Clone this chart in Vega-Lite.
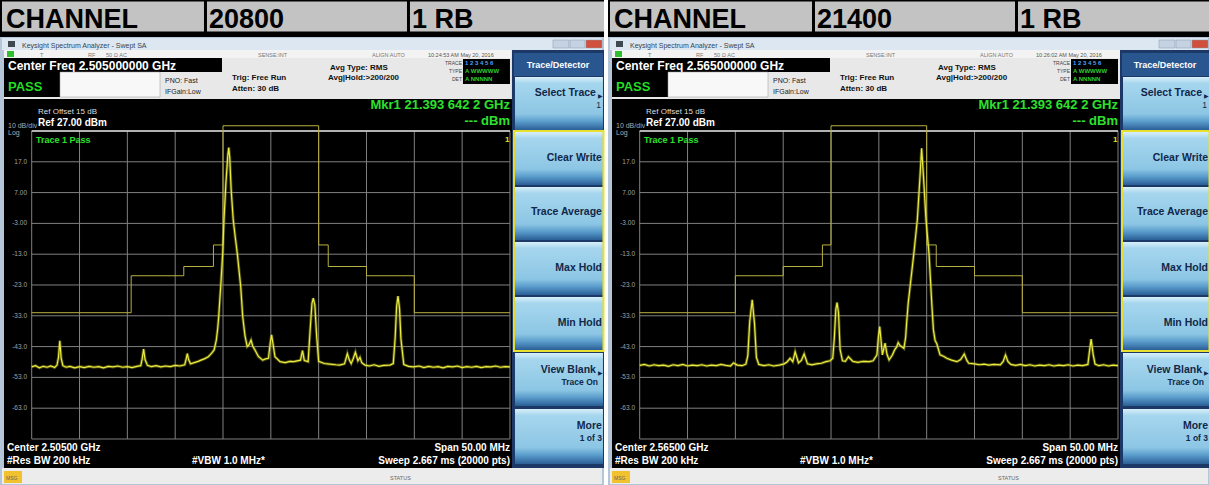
{
"$schema":"https://vega.github.io/schema/vega-lite/v6.json",
"background":"#ffffff",
"padding":0,
"spacing":3,
"config":{"view":{"stroke":null},"axis":{"disable":true},"font":"Liberation Sans","text":{"font":"Liberation Sans"}},
"datasets":{
"traceL":[
{"f":2480.0,"db":-49.6},{"f":2480.4,"db":-49.2},{"f":2480.8,"db":-49.9},{"f":2481.2,"db":-49.4},{"f":2481.6,"db":-49.7},{"f":2482.0,"db":-49.3},{"f":2482.4,"db":-49.8},{"f":2482.65,"db":-49.0},{"f":2482.8,"db":-46.5},{"f":2482.94,"db":-41.1},{"f":2483.08,"db":-46.8},{"f":2483.26,"db":-49.2},{"f":2483.6,"db":-49.7},{"f":2484.0,"db":-49.4},{"f":2484.5,"db":-49.9},{"f":2485.0,"db":-49.5},{"f":2485.5,"db":-49.8},{"f":2486.0,"db":-49.4},{"f":2486.5,"db":-49.7},{"f":2487.0,"db":-49.5},{"f":2487.5,"db":-49.9},{"f":2488.0,"db":-49.4},{"f":2488.5,"db":-49.6},{"f":2489.0,"db":-49.3},{"f":2489.5,"db":-49.7},{"f":2490.0,"db":-49.5},{"f":2490.5,"db":-49.8},{"f":2491.0,"db":-49.4},{"f":2491.4,"db":-49.2},{"f":2491.55,"db":-47.0},{"f":2491.7,"db":-43.8},{"f":2491.85,"db":-47.2},{"f":2492.1,"db":-49.1},{"f":2492.5,"db":-49.5},{"f":2493.0,"db":-49.2},{"f":2493.5,"db":-49.6},{"f":2494.0,"db":-49.3},{"f":2494.5,"db":-49.5},{"f":2495.0,"db":-49.1},{"f":2495.5,"db":-49.3},{"f":2496.0,"db":-48.9},{"f":2496.15,"db":-47.0},{"f":2496.27,"db":-45.3},{"f":2496.4,"db":-47.2},{"f":2496.6,"db":-48.6},{"f":2497.0,"db":-48.2},{"f":2497.4,"db":-47.8},{"f":2497.7,"db":-47.4},{"f":2498.1,"db":-46.9},{"f":2498.46,"db":-46.3},{"f":2498.8,"db":-45.2},{"f":2499.07,"db":-44.1},{"f":2499.3,"db":-40.9},{"f":2499.45,"db":-37.0},{"f":2499.55,"db":-33.3},{"f":2499.76,"db":-23.5},{"f":2499.97,"db":-12.7},{"f":2500.1,"db":-1.9},{"f":2500.3,"db":10.0},{"f":2500.5,"db":19.0},{"f":2500.6,"db":21.6},{"f":2500.7,"db":18.5},{"f":2500.85,"db":8.0},{"f":2501.07,"db":-1.9},{"f":2501.3,"db":-8.0},{"f":2501.49,"db":-12.7},{"f":2501.85,"db":-23.5},{"f":2502.06,"db":-33.3},{"f":2502.3,"db":-39.5},{"f":2502.53,"db":-43.0},{"f":2502.7,"db":-42.5},{"f":2502.93,"db":-40.9},{"f":2503.1,"db":-42.8},{"f":2503.34,"db":-44.1},{"f":2503.7,"db":-46.2},{"f":2504.15,"db":-47.4},{"f":2504.45,"db":-47.0},{"f":2504.75,"db":-46.8},{"f":2504.95,"db":-41.5},{"f":2505.08,"db":-39.2},{"f":2505.22,"db":-42.0},{"f":2505.43,"db":-46.3},{"f":2505.96,"db":-47.9},{"f":2506.5,"db":-48.2},{"f":2507.0,"db":-47.8},{"f":2507.38,"db":-47.9},{"f":2508.1,"db":-47.4},{"f":2508.31,"db":-44.3},{"f":2508.5,"db":-47.5},{"f":2508.9,"db":-47.9},{"f":2509.1,"db":-38.0},{"f":2509.3,"db":-29.0},{"f":2509.44,"db":-27.3},{"f":2509.6,"db":-29.5},{"f":2509.8,"db":-40.0},{"f":2510.0,"db":-47.8},{"f":2510.6,"db":-48.5},{"f":2511.2,"db":-48.7},{"f":2511.8,"db":-48.9},{"f":2512.2,"db":-49.0},{"f":2512.7,"db":-48.6},{"f":2512.85,"db":-47.0},{"f":2513.0,"db":-45.3},{"f":2513.2,"db":-47.3},{"f":2513.4,"db":-48.5},{"f":2513.6,"db":-47.0},{"f":2513.84,"db":-44.8},{"f":2514.1,"db":-47.6},{"f":2514.32,"db":-46.5},{"f":2514.5,"db":-48.2},{"f":2514.84,"db":-49.0},{"f":2515.3,"db":-49.3},{"f":2515.8,"db":-48.9},{"f":2516.3,"db":-49.4},{"f":2516.8,"db":-49.1},{"f":2517.45,"db":-49.0},{"f":2517.8,"db":-48.5},{"f":2518.0,"db":-40.0},{"f":2518.15,"db":-30.0},{"f":2518.29,"db":-26.6},{"f":2518.45,"db":-30.5},{"f":2518.6,"db":-40.5},{"f":2518.9,"db":-48.8},{"f":2519.4,"db":-49.4},{"f":2519.9,"db":-49.6},{"f":2520.5,"db":-49.3},{"f":2521.0,"db":-49.8},{"f":2521.5,"db":-49.4},{"f":2522.0,"db":-49.7},{"f":2522.5,"db":-49.5},{"f":2523.0,"db":-49.9},{"f":2523.5,"db":-49.4},{"f":2524.0,"db":-49.6},{"f":2524.5,"db":-49.3},{"f":2525.0,"db":-49.8},{"f":2525.5,"db":-49.5},{"f":2526.0,"db":-49.7},{"f":2526.5,"db":-49.4},{"f":2527.0,"db":-49.8},{"f":2527.5,"db":-49.5},{"f":2528.0,"db":-49.6},{"f":2528.5,"db":-49.3},{"f":2529.0,"db":-49.7},{"f":2529.5,"db":-49.5},{"f":2530.0,"db":-49.6}
],
"traceR":[
{"f":2540.0,"db":-49.1},{"f":2540.5,"db":-48.8},{"f":2541.0,"db":-49.3},{"f":2541.5,"db":-48.9},{"f":2542.0,"db":-49.2},{"f":2542.5,"db":-49.0},{"f":2543.0,"db":-49.4},{"f":2543.5,"db":-48.9},{"f":2544.0,"db":-49.2},{"f":2544.5,"db":-48.8},{"f":2545.0,"db":-49.3},{"f":2545.5,"db":-49.0},{"f":2546.0,"db":-49.2},{"f":2546.5,"db":-48.9},{"f":2547.0,"db":-49.3},{"f":2547.5,"db":-49.0},{"f":2548.0,"db":-49.2},{"f":2548.5,"db":-48.8},{"f":2549.0,"db":-49.1},{"f":2549.5,"db":-49.3},{"f":2549.8,"db":-48.3},{"f":2550.2,"db":-49.0},{"f":2550.7,"db":-49.2},{"f":2551.1,"db":-48.7},{"f":2551.3,"db":-46.0},{"f":2551.5,"db":-35.0},{"f":2551.76,"db":-27.8},{"f":2552.0,"db":-35.5},{"f":2552.2,"db":-46.5},{"f":2552.45,"db":-48.8},{"f":2553.0,"db":-49.2},{"f":2553.5,"db":-48.9},{"f":2554.0,"db":-49.3},{"f":2554.6,"db":-49.0},{"f":2555.1,"db":-48.6},{"f":2555.4,"db":-48.0},{"f":2555.72,"db":-46.8},{"f":2556.0,"db":-47.9},{"f":2556.25,"db":-44.7},{"f":2556.6,"db":-48.3},{"f":2556.9,"db":-47.5},{"f":2557.19,"db":-45.4},{"f":2557.54,"db":-48.6},{"f":2558.0,"db":-48.9},{"f":2558.5,"db":-48.6},{"f":2559.0,"db":-48.4},{"f":2559.47,"db":-47.9},{"f":2559.9,"db":-47.6},{"f":2560.18,"db":-46.8},{"f":2560.35,"db":-40.0},{"f":2560.5,"db":-31.0},{"f":2560.63,"db":-28.7},{"f":2560.78,"db":-32.0},{"f":2560.95,"db":-44.0},{"f":2561.2,"db":-47.6},{"f":2561.5,"db":-47.8},{"f":2561.82,"db":-46.3},{"f":2562.28,"db":-47.8},{"f":2562.8,"db":-48.1},{"f":2563.4,"db":-47.8},{"f":2564.0,"db":-47.9},{"f":2564.4,"db":-47.6},{"f":2564.8,"db":-45.7},{"f":2564.95,"db":-40.0},{"f":2565.09,"db":-36.5},{"f":2565.23,"db":-41.0},{"f":2565.37,"db":-45.7},{"f":2565.65,"db":-41.9},{"f":2565.85,"db":-45.5},{"f":2566.07,"db":-47.3},{"f":2566.4,"db":-45.8},{"f":2566.66,"db":-44.0},{"f":2566.85,"db":-43.2},{"f":2567.02,"db":-41.7},{"f":2567.2,"db":-42.6},{"f":2567.37,"db":-43.0},{"f":2567.62,"db":-43.6},{"f":2567.8,"db":-40.0},{"f":2567.9,"db":-35.4},{"f":2568.07,"db":-28.9},{"f":2568.66,"db":-12.7},{"f":2569.02,"db":-1.9},{"f":2569.3,"db":12.0},{"f":2569.47,"db":21.4},{"f":2569.65,"db":13.0},{"f":2569.93,"db":-1.9},{"f":2570.24,"db":-12.7},{"f":2570.53,"db":-28.9},{"f":2570.7,"db":-37.5},{"f":2570.88,"db":-41.0},{"f":2571.05,"db":-42.0},{"f":2571.4,"db":-45.7},{"f":2571.8,"db":-46.2},{"f":2572.1,"db":-46.8},{"f":2572.6,"db":-47.4},{"f":2573.16,"db":-47.9},{"f":2573.55,"db":-47.2},{"f":2573.93,"db":-45.4},{"f":2574.2,"db":-47.5},{"f":2574.4,"db":-48.4},{"f":2575.0,"db":-48.6},{"f":2575.5,"db":-48.9},{"f":2576.0,"db":-48.7},{"f":2576.5,"db":-49.0},{"f":2577.0,"db":-48.8},{"f":2577.7,"db":-48.9},{"f":2578.0,"db":-47.8},{"f":2578.24,"db":-45.7},{"f":2578.5,"db":-47.9},{"f":2578.8,"db":-48.8},{"f":2579.3,"db":-49.1},{"f":2579.8,"db":-48.8},{"f":2580.3,"db":-49.2},{"f":2580.8,"db":-48.9},{"f":2581.3,"db":-49.3},{"f":2581.8,"db":-49.0},{"f":2582.3,"db":-49.2},{"f":2582.8,"db":-48.9},{"f":2583.3,"db":-49.3},{"f":2583.8,"db":-49.0},{"f":2584.3,"db":-49.2},{"f":2584.8,"db":-48.9},{"f":2585.3,"db":-49.3},{"f":2585.8,"db":-49.0},{"f":2586.3,"db":-49.2},{"f":2586.85,"db":-48.8},{"f":2587.0,"db":-45.0},{"f":2587.19,"db":-40.6},{"f":2587.4,"db":-45.5},{"f":2587.6,"db":-48.7},{"f":2588.0,"db":-49.2},{"f":2588.5,"db":-48.9},{"f":2589.0,"db":-49.3},{"f":2589.5,"db":-49.0},{"f":2590.0,"db":-49.2}
],
"maskL":[{"f":2480,"db":-32},{"f":2490.4,"db":-20},{"f":2495.9,"db":-17},{"f":2499,"db":-10},{"f":2500,"db":28.7},{"f":2510,"db":-10},{"f":2511,"db":-17},{"f":2515,"db":-20},{"f":2520,"db":-32},{"f":2530,"db":-32}],
"maskR":[{"f":2540,"db":-32},{"f":2550,"db":-20},{"f":2555,"db":-17},{"f":2559.1,"db":-10},{"f":2560,"db":28.7},{"f":2570,"db":-10},{"f":2571,"db":-17},{"f":2575,"db":-20},{"f":2580,"db":-32},{"f":2590,"db":-32}],
"levels":[{"db":17,"label":"17.0"},{"db":7,"label":"7.00"},{"db":-3,"label":"-3.00"},{"db":-13,"label":"-13.0"},{"db":-23,"label":"-23.0"},{"db":-33,"label":"-33.0"},{"db":-43,"label":"-43.0"},{"db":-53,"label":"-53.0"},{"db":-63,"label":"-63.0"}],
"hgrid":[{"d":27},{"d":17},{"d":7},{"d":-3},{"d":-13},{"d":-23},{"d":-33},{"d":-43},{"d":-53},{"d":-63},{"d":-73}],
"vgridL":[{"g":2480},{"g":2485},{"g":2490},{"g":2495},{"g":2500},{"g":2505},{"g":2510},{"g":2515},{"g":2520},{"g":2525},{"g":2530}],
"vgridR":[{"g":2540},{"g":2545},{"g":2550},{"g":2555},{"g":2560},{"g":2565},{"g":2570},{"g":2575},{"g":2580},{"g":2585},{"g":2590}]
},
"hconcat":[
{
"width":604,"height":485,
"data":{"values":[{}]},
"layer":[
{"mark":{"type":"rect","color":"#000000"},"encoding":{"x":{"datum":2476.686,"type":"quantitative","scale":{"domain":[2476.686,2539.83],"nice":false,"zero":false},"axis":null},"x2":{"datum":2539.83},"y":{"datum":69.53,"type":"quantitative","scale":{"domain":[-87.937,69.53],"nice":false,"zero":false},"axis":null},"y2":{"datum":57.517}}},
{"mark":{"type":"rect","color":"#c3c3c3"},"encoding":{"x":{"datum":2476.895},"x2":{"datum":2498.011},"y":{"datum":69.043},"y2":{"datum":59.303}}},
{"mark":{"type":"rect","color":"#c3c3c3"},"encoding":{"x":{"datum":2498.325},"x2":{"datum":2519.233},"y":{"datum":69.043},"y2":{"datum":59.303}}},
{"mark":{"type":"rect","color":"#c3c3c3"},"encoding":{"x":{"datum":2519.546},"x2":{"datum":2539.83},"y":{"datum":69.043},"y2":{"datum":59.303}}},
{"mark":{"type":"text","text":"CHANNEL","fontSize":27,"fontWeight":"bold","color":"#000000","align":"left","baseline":"alphabetic"},"encoding":{"x":{"datum":2477.313},"y":{"datum":60.277}}},
{"mark":{"type":"text","text":"20800","fontSize":27,"fontWeight":"bold","color":"#000000","align":"left","baseline":"alphabetic"},"encoding":{"x":{"datum":2498.534},"y":{"datum":60.277}}},
{"mark":{"type":"text","text":"1 RB","fontSize":27,"fontWeight":"bold","color":"#000000","align":"left","baseline":"alphabetic"},"encoding":{"x":{"datum":2519.755},"y":{"datum":60.277}}},
{"mark":{"type":"rect","color":"#b4c6d8"},"encoding":{"x":{"datum":2476.686},"x2":{"datum":2539.83},"y":{"datum":57.517},"y2":{"datum":-87.937}}},
{"mark":{"type":"rect","color":"#dde7f1"},"encoding":{"x":{"datum":2476.895},"x2":{"datum":2539.617},"y":{"datum":57.193},"y2":{"datum":53.296}}},
{"mark":{"type":"rect","color":"#404850"},"encoding":{"x":{"datum":2477.522},"x2":{"datum":2478.254},"y":{"datum":56.218},"y2":{"datum":54.27}}},
{"mark":{"type":"text","text":"Keysight Spectrum Analyzer - Swept SA","fontSize":7,"color":"#334455","align":"left","baseline":"alphabetic"},"encoding":{"x":{"datum":2478.986},"y":{"datum":53.946}}},
{"mark":{"type":"rect","color":"#c4d2e2","stroke":"#8898aa","strokeWidth":0.5},"encoding":{"x":{"datum":2534.495},"x2":{"datum":2536.168},"y":{"datum":56.543},"y2":{"datum":53.946}}},
{"mark":{"type":"rect","color":"#c4d2e2","stroke":"#8898aa","strokeWidth":0.5},"encoding":{"x":{"datum":2536.272},"x2":{"datum":2537.84},"y":{"datum":56.543},"y2":{"datum":53.946}}},
{"mark":{"type":"rect","color":"#d0503c","stroke":"#8898aa","strokeWidth":0.5},"encoding":{"x":{"datum":2537.945},"x2":{"datum":2539.617},"y":{"datum":56.543},"y2":{"datum":53.946}}},
{"mark":{"type":"rect","color":"#f3f3f3"},"encoding":{"x":{"datum":2477.104},"x2":{"datum":2530.209},"y":{"datum":53.296},"y2":{"datum":50.699}}},
{"mark":{"type":"rect","color":"#2fbf2f"},"encoding":{"x":{"datum":2477.418},"x2":{"datum":2478.15},"y":{"datum":52.971},"y2":{"datum":51.023}}},
{"mark":{"type":"text","text":"T","fontSize":5.5,"color":"#777777","align":"left","baseline":"alphabetic"},"encoding":{"x":{"datum":2480.867},"y":{"datum":51.023}}},
{"mark":{"type":"text","text":"RF","fontSize":5.5,"color":"#777777","align":"left","baseline":"alphabetic"},"encoding":{"x":{"datum":2485.885},"y":{"datum":51.023}}},
{"mark":{"type":"text","text":"50 Ω    AC","fontSize":5.5,"color":"#777777","align":"left","baseline":"alphabetic"},"encoding":{"x":{"datum":2487.767},"y":{"datum":51.023}}},
{"mark":{"type":"text","text":"SENSE:INT","fontSize":5.5,"color":"#777777","align":"left","baseline":"alphabetic"},"encoding":{"x":{"datum":2503.657},"y":{"datum":51.023}}},
{"mark":{"type":"text","text":"ALIGN AUTO","fontSize":5.5,"color":"#777777","align":"left","baseline":"alphabetic"},"encoding":{"x":{"datum":2515.574},"y":{"datum":51.023}}},
{"mark":{"type":"text","text":"10:24:53 AM May 20, 2016","fontSize":5.5,"color":"#555555","align":"left","baseline":"alphabetic"},"encoding":{"x":{"datum":2521.428},"y":{"datum":51.023}}},
{"mark":{"type":"rect","color":"#e8e8e8"},"encoding":{"x":{"datum":2477.104},"x2":{"datum":2530.209},"y":{"datum":50.699},"y2":{"datum":37.387}}},
{"mark":{"type":"rect","color":"#000000"},"encoding":{"x":{"datum":2477.104},"x2":{"datum":2499.893},"y":{"datum":50.699},"y2":{"datum":46.153}}},
{"mark":{"type":"text","text":"Center Freq 2.505000000 GHz","fontSize":12,"fontWeight":"bold","color":"#ffffff","align":"left","baseline":"alphabetic"},"encoding":{"x":{"datum":2477.522},"y":{"datum":46.803}}},
{"mark":{"type":"rect","color":"#000000"},"encoding":{"x":{"datum":2477.104},"x2":{"datum":2482.958},"y":{"datum":46.153},"y2":{"datum":38.036}}},
{"mark":{"type":"rect","color":"#f8f8f8","stroke":"#999999","strokeWidth":0.5},"encoding":{"x":{"datum":2482.958},"x2":{"datum":2493.412},"y":{"datum":46.153},"y2":{"datum":38.036}}},
{"mark":{"type":"text","text":"PASS","fontSize":13,"fontWeight":"bold","color":"#22dd22","align":"left","baseline":"alphabetic"},"encoding":{"x":{"datum":2477.522},"y":{"datum":39.985}}},
{"mark":{"type":"text","text":"PNO: Fast","fontSize":7,"color":"#222222","align":"left","baseline":"alphabetic"},"encoding":{"x":{"datum":2493.935},"y":{"datum":42.582}}},
{"mark":{"type":"text","text":"IFGain:Low","fontSize":7,"color":"#222222","align":"left","baseline":"alphabetic"},"encoding":{"x":{"datum":2493.935},"y":{"datum":39.01}}},
{"mark":{"type":"text","text":"Trig: Free Run","fontSize":8,"fontWeight":"bold","color":"#111111","align":"left","baseline":"alphabetic"},"encoding":{"x":{"datum":2500.939},"y":{"datum":43.556}}},
{"mark":{"type":"text","text":"Atten: 30 dB","fontSize":8,"fontWeight":"bold","color":"#111111","align":"left","baseline":"alphabetic"},"encoding":{"x":{"datum":2500.939},"y":{"datum":39.985}}},
{"mark":{"type":"text","text":"Avg Type: RMS","fontSize":8,"fontWeight":"bold","color":"#111111","align":"left","baseline":"alphabetic"},"encoding":{"x":{"datum":2511.183},"y":{"datum":46.803}}},
{"mark":{"type":"text","text":"Avg|Hold:>200/200","fontSize":8,"fontWeight":"bold","color":"#111111","align":"left","baseline":"alphabetic"},"encoding":{"x":{"datum":2510.974},"y":{"datum":43.556}}},
{"mark":{"type":"text","text":"TRACE","fontSize":5,"color":"#444444","align":"right","baseline":"alphabetic"},"encoding":{"x":{"datum":2524.982},"y":{"datum":48.426}}},
{"mark":{"type":"text","text":"TYPE","fontSize":5,"color":"#444444","align":"right","baseline":"alphabetic"},"encoding":{"x":{"datum":2524.982},"y":{"datum":45.83}}},
{"mark":{"type":"text","text":"DET","fontSize":5,"color":"#444444","align":"right","baseline":"alphabetic"},"encoding":{"x":{"datum":2524.982},"y":{"datum":43.232}}},
{"mark":{"type":"rect","color":"#000000"},"encoding":{"x":{"datum":2525.087},"x2":{"datum":2530.0},"y":{"datum":50.374},"y2":{"datum":42.258}}},
{"mark":{"type":"text","text":"1 2 3 4 5 6","fontSize":6,"fontWeight":"bold","color":"#4aa0ff","align":"left","baseline":"alphabetic"},"encoding":{"x":{"datum":2525.296},"y":{"datum":48.426}}},
{"mark":{"type":"text","text":"A WWWWW","fontSize":6,"fontWeight":"bold","color":"#33cc33","align":"left","baseline":"alphabetic"},"encoding":{"x":{"datum":2525.296},"y":{"datum":45.83}}},
{"mark":{"type":"text","text":"A NNNNN","fontSize":6,"fontWeight":"bold","color":"#33cc33","align":"left","baseline":"alphabetic"},"encoding":{"x":{"datum":2525.296},"y":{"datum":43.232}}},
{"mark":{"type":"rect","color":"#000000"},"encoding":{"x":{"datum":2477.104},"x2":{"datum":2530.209},"y":{"datum":37.387},"y2":{"datum":-82.418}}},
{"data":{"name":"vgridL"},"mark":{"type":"rule","color":"#808080","strokeWidth":1},"encoding":{"x":{"field":"g","type":"quantitative","scale":{"domain":[2476.686,2539.83],"nice":false,"zero":false}},"y":{"datum":27},"y2":{"datum":-73}}},
{"data":{"name":"hgrid"},"mark":{"type":"rule","color":"#808080","strokeWidth":1},"encoding":{"y":{"field":"d","type":"quantitative","scale":{"domain":[-87.937,69.53],"nice":false,"zero":false}},"x":{"datum":2480},"x2":{"datum":2530}}},
{"mark":{"type":"rule","color":"#d8d8d8","strokeWidth":1.5},"encoding":{"y":{"datum":27},"x":{"datum":2480},"x2":{"datum":2530}}},
{"data":{"name":"maskL"},"mark":{"type":"line","color":"#b8b040","strokeWidth":1,"interpolate":"step-after"},"encoding":{"x":{"field":"f","type":"quantitative"},"y":{"field":"db","type":"quantitative"}}},
{"data":{"name":"traceL"},"mark":{"type":"line","color":"#9a9a20","strokeWidth":3,"opacity":0.5},"encoding":{"x":{"field":"f","type":"quantitative"},"y":{"field":"db","type":"quantitative"}}},
{"data":{"name":"traceL"},"mark":{"type":"line","color":"#ecec40","strokeWidth":1.2},"encoding":{"x":{"field":"f","type":"quantitative"},"y":{"field":"db","type":"quantitative"}}},
{"data":{"name":"levels"},"mark":{"type":"text","fontSize":6.5,"color":"#a0a0a0","align":"right","baseline":"middle"},"encoding":{"x":{"datum":2479.509},"y":{"field":"db","type":"quantitative"},"text":{"field":"label"}}},
{"mark":{"type":"text","text":"Ref Offset 15 dB","fontSize":8,"color":"#dddddd","align":"left","baseline":"alphabetic"},"encoding":{"x":{"datum":2480.658},"y":{"datum":32.517}}},
{"mark":{"type":"text","text":"Ref 27.00 dBm","fontSize":10,"fontWeight":"bold","color":"#ffffff","align":"left","baseline":"alphabetic"},"encoding":{"x":{"datum":2480.658},"y":{"datum":28.62}}},
{"mark":{"type":"text","text":"10 dB/div","fontSize":7,"color":"#aaaaaa","align":"left","baseline":"alphabetic"},"encoding":{"x":{"datum":2477.522},"y":{"datum":27.971}}},
{"mark":{"type":"text","text":"Log","fontSize":7,"color":"#aaaaaa","align":"left","baseline":"alphabetic"},"encoding":{"x":{"datum":2477.522},"y":{"datum":25.699}}},
{"mark":{"type":"text","text":"Mkr1 21.393 642 2 GHz","fontSize":13,"fontWeight":"bold","color":"#2ee02e","align":"right","baseline":"alphabetic"},"encoding":{"x":{"datum":2530.0},"y":{"datum":34.14}}},
{"mark":{"type":"text","text":"--- dBm","fontSize":13,"fontWeight":"bold","color":"#2ee02e","align":"right","baseline":"alphabetic"},"encoding":{"x":{"datum":2530.0},"y":{"datum":28.946}}},
{"mark":{"type":"text","text":"Trace 1 Pass","fontSize":9,"fontWeight":"bold","color":"#2ee02e","align":"left","baseline":"alphabetic"},"encoding":{"x":{"datum":2480.449},"y":{"datum":23.102}}},
{"mark":{"type":"text","text":"1","fontSize":8,"fontWeight":"bold","color":"#e8e020","align":"left","baseline":"alphabetic"},"encoding":{"x":{"datum":2529.477},"y":{"datum":23.427}}},
{"mark":{"type":"text","text":"Center 2.50500 GHz","fontSize":10,"fontWeight":"bold","color":"#ffffff","align":"left","baseline":"alphabetic"},"encoding":{"x":{"datum":2477.418},"y":{"datum":-76.898}}},
{"mark":{"type":"text","text":"#Res BW 200 kHz","fontSize":10,"fontWeight":"bold","color":"#ffffff","align":"left","baseline":"alphabetic"},"encoding":{"x":{"datum":2477.418},"y":{"datum":-81.119}}},
{"mark":{"type":"text","text":"#VBW 1.0 MHz*","fontSize":10,"fontWeight":"bold","color":"#ffffff","align":"left","baseline":"alphabetic"},"encoding":{"x":{"datum":2496.757},"y":{"datum":-81.119}}},
{"mark":{"type":"text","text":"Span 50.00 MHz","fontSize":10,"fontWeight":"bold","color":"#ffffff","align":"right","baseline":"alphabetic"},"encoding":{"x":{"datum":2530.0},"y":{"datum":-76.898}}},
{"mark":{"type":"text","text":"Sweep  2.667 ms (20000 pts)","fontSize":10,"fontWeight":"bold","color":"#ffffff","align":"right","baseline":"alphabetic"},"encoding":{"x":{"datum":2530.0},"y":{"datum":-81.119}}},
{"mark":{"type":"rect","color":"#ececec"},"encoding":{"x":{"datum":2476.895},"x2":{"datum":2539.617},"y":{"datum":-82.418},"y2":{"datum":-87.613}}},
{"mark":{"type":"rect","color":"#f2c12e"},"encoding":{"x":{"datum":2477.104},"x2":{"datum":2478.986},"y":{"datum":-83.392},"y2":{"datum":-87.288}}},
{"mark":{"type":"text","text":"MSG","fontSize":5,"color":"#666666","align":"left","baseline":"alphabetic"},"encoding":{"x":{"datum":2477.313},"y":{"datum":-86.314}}},
{"mark":{"type":"text","text":"STATUS","fontSize":5.5,"color":"#666666","align":"left","baseline":"alphabetic"},"encoding":{"x":{"datum":2517.455},"y":{"datum":-86.314}}},
{"mark":{"type":"rect","color":"#1c3866"},"encoding":{"x":{"datum":2530.209},"x2":{"datum":2539.83},"y":{"datum":53.296},"y2":{"datum":-82.418}}},
{"mark":{"type":"rect","color":"#2a5690"},"encoding":{"x":{"datum":2530.418},"x2":{"datum":2539.722},"y":{"datum":52.322},"y2":{"datum":44.853}}},
{"mark":{"type":"text","text":"Trace/Detector","fontSize":9,"fontWeight":"bold","color":"#ffffff","align":"center","baseline":"alphabetic"},"encoding":{"x":{"datum":2535.018},"y":{"datum":47.452}}},
{"mark":{"type":"rect","fill":{"gradient":"linear","x1":0,"y1":0,"x2":0,"y2":1,"stops":[{"offset":0,"color":"#d8eff9"},{"offset":0.12,"color":"#a6d6ee"},{"offset":0.7,"color":"#8cc6e4"},{"offset":0.84,"color":"#5a9ccc"},{"offset":1,"color":"#2a5e96"}]}},"encoding":{"x":{"datum":2530.523},"x2":{"datum":2539.722},"y":{"datum":44.528},"y2":{"datum":27.322}}},
{"mark":{"type":"rect","fill":{"gradient":"linear","x1":0,"y1":0,"x2":0,"y2":1,"stops":[{"offset":0,"color":"#d8eff9"},{"offset":0.12,"color":"#a6d6ee"},{"offset":0.7,"color":"#8cc6e4"},{"offset":0.84,"color":"#5a9ccc"},{"offset":1,"color":"#2a5e96"}]}},"encoding":{"x":{"datum":2530.523},"x2":{"datum":2539.722},"y":{"datum":26.673},"y2":{"datum":9.465}}},
{"mark":{"type":"rect","fill":{"gradient":"linear","x1":0,"y1":0,"x2":0,"y2":1,"stops":[{"offset":0,"color":"#d8eff9"},{"offset":0.12,"color":"#a6d6ee"},{"offset":0.7,"color":"#8cc6e4"},{"offset":0.84,"color":"#5a9ccc"},{"offset":1,"color":"#2a5e96"}]}},"encoding":{"x":{"datum":2530.523},"x2":{"datum":2539.722},"y":{"datum":8.816},"y2":{"datum":-8.392}}},
{"mark":{"type":"rect","fill":{"gradient":"linear","x1":0,"y1":0,"x2":0,"y2":1,"stops":[{"offset":0,"color":"#d8eff9"},{"offset":0.12,"color":"#a6d6ee"},{"offset":0.7,"color":"#8cc6e4"},{"offset":0.84,"color":"#5a9ccc"},{"offset":1,"color":"#2a5e96"}]}},"encoding":{"x":{"datum":2530.523},"x2":{"datum":2539.722},"y":{"datum":-9.041},"y2":{"datum":-26.249}}},
{"mark":{"type":"rect","fill":{"gradient":"linear","x1":0,"y1":0,"x2":0,"y2":1,"stops":[{"offset":0,"color":"#d8eff9"},{"offset":0.12,"color":"#a6d6ee"},{"offset":0.7,"color":"#8cc6e4"},{"offset":0.84,"color":"#5a9ccc"},{"offset":1,"color":"#2a5e96"}]}},"encoding":{"x":{"datum":2530.523},"x2":{"datum":2539.722},"y":{"datum":-26.899},"y2":{"datum":-44.106}}},
{"mark":{"type":"rect","fill":{"gradient":"linear","x1":0,"y1":0,"x2":0,"y2":1,"stops":[{"offset":0,"color":"#d8eff9"},{"offset":0.12,"color":"#a6d6ee"},{"offset":0.7,"color":"#8cc6e4"},{"offset":0.84,"color":"#5a9ccc"},{"offset":1,"color":"#2a5e96"}]}},"encoding":{"x":{"datum":2530.523},"x2":{"datum":2539.722},"y":{"datum":-45.081},"y2":{"datum":-62.288}}},
{"mark":{"type":"rect","fill":{"gradient":"linear","x1":0,"y1":0,"x2":0,"y2":1,"stops":[{"offset":0,"color":"#d8eff9"},{"offset":0.12,"color":"#a6d6ee"},{"offset":0.7,"color":"#8cc6e4"},{"offset":0.84,"color":"#5a9ccc"},{"offset":1,"color":"#2a5e96"}]}},"encoding":{"x":{"datum":2530.523},"x2":{"datum":2539.722},"y":{"datum":-63.262},"y2":{"datum":-81.119}}},
{"mark":{"type":"rect","fillOpacity":0,"stroke":"#e8e030","strokeWidth":2},"encoding":{"x":{"datum":2530.418},"x2":{"datum":2539.774},"y":{"datum":26.997},"y2":{"datum":-44.431}}},
{"mark":{"type":"text","text":"Select Trace","fontSize":10.5,"fontWeight":"bold","color":"#12284a","align":"right","baseline":"alphabetic"},"encoding":{"x":{"datum":2538.99},"y":{"datum":38.361}}},
{"mark":{"type":"text","text":"▶","fontSize":6,"color":"#12284a","align":"right","baseline":"alphabetic"},"encoding":{"x":{"datum":2539.722},"y":{"datum":37.712}}},
{"mark":{"type":"text","text":"1","fontSize":8.5,"color":"#12284a","align":"right","baseline":"alphabetic"},"encoding":{"x":{"datum":2539.513},"y":{"datum":34.465}}},
{"mark":{"type":"text","text":"Clear Write","fontSize":10.5,"fontWeight":"bold","color":"#12284a","align":"right","baseline":"alphabetic"},"encoding":{"x":{"datum":2539.617},"y":{"datum":17.257}}},
{"mark":{"type":"text","text":"Trace Average","fontSize":10.5,"fontWeight":"bold","color":"#12284a","align":"right","baseline":"alphabetic"},"encoding":{"x":{"datum":2539.617},"y":{"datum":-0.275}}},
{"mark":{"type":"text","text":"Max Hold","fontSize":10.5,"fontWeight":"bold","color":"#12284a","align":"right","baseline":"alphabetic"},"encoding":{"x":{"datum":2539.617},"y":{"datum":-18.457}}},
{"mark":{"type":"text","text":"Min Hold","fontSize":10.5,"fontWeight":"bold","color":"#12284a","align":"right","baseline":"alphabetic"},"encoding":{"x":{"datum":2539.617},"y":{"datum":-36.314}}},
{"mark":{"type":"text","text":"View Blank","fontSize":10.5,"fontWeight":"bold","color":"#12284a","align":"right","baseline":"alphabetic"},"encoding":{"x":{"datum":2538.99},"y":{"datum":-51.574}}},
{"mark":{"type":"text","text":"▶","fontSize":6,"color":"#12284a","align":"right","baseline":"alphabetic"},"encoding":{"x":{"datum":2539.722},"y":{"datum":-52.223}}},
{"mark":{"type":"text","text":"Trace On","fontSize":8.5,"fontWeight":"bold","color":"#12284a","align":"right","baseline":"alphabetic"},"encoding":{"x":{"datum":2539.199},"y":{"datum":-55.47}}},
{"mark":{"type":"text","text":"More","fontSize":10.5,"fontWeight":"bold","color":"#12284a","align":"right","baseline":"alphabetic"},"encoding":{"x":{"datum":2539.617},"y":{"datum":-69.756}}},
{"mark":{"type":"text","text":"1 of 3","fontSize":8.5,"fontWeight":"bold","color":"#12284a","align":"right","baseline":"alphabetic"},"encoding":{"x":{"datum":2539.617},"y":{"datum":-73.652}}}
]
},
{
"width":602,"height":485,
"data":{"values":[{}]},
"layer":[
{"mark":{"type":"rect","color":"#000000"},"encoding":{"x":{"datum":2536.686,"type":"quantitative","scale":{"domain":[2536.686,2599.617],"nice":false,"zero":false},"axis":null},"x2":{"datum":2599.617},"y":{"datum":69.53,"type":"quantitative","scale":{"domain":[-87.937,69.53],"nice":false,"zero":false},"axis":null},"y2":{"datum":57.517}}},
{"mark":{"type":"rect","color":"#c3c3c3"},"encoding":{"x":{"datum":2536.895},"x2":{"datum":2558.011},"y":{"datum":69.043},"y2":{"datum":59.303}}},
{"mark":{"type":"rect","color":"#c3c3c3"},"encoding":{"x":{"datum":2558.325},"x2":{"datum":2579.233},"y":{"datum":69.043},"y2":{"datum":59.303}}},
{"mark":{"type":"rect","color":"#c3c3c3"},"encoding":{"x":{"datum":2579.546},"x2":{"datum":2599.617},"y":{"datum":69.043},"y2":{"datum":59.303}}},
{"mark":{"type":"text","text":"CHANNEL","fontSize":27,"fontWeight":"bold","color":"#000000","align":"left","baseline":"alphabetic"},"encoding":{"x":{"datum":2537.313},"y":{"datum":60.277}}},
{"mark":{"type":"text","text":"21400","fontSize":27,"fontWeight":"bold","color":"#000000","align":"left","baseline":"alphabetic"},"encoding":{"x":{"datum":2558.534},"y":{"datum":60.277}}},
{"mark":{"type":"text","text":"1 RB","fontSize":27,"fontWeight":"bold","color":"#000000","align":"left","baseline":"alphabetic"},"encoding":{"x":{"datum":2579.755},"y":{"datum":60.277}}},
{"mark":{"type":"rect","color":"#b4c6d8"},"encoding":{"x":{"datum":2536.686},"x2":{"datum":2599.617},"y":{"datum":57.517},"y2":{"datum":-87.937}}},
{"mark":{"type":"rect","color":"#dde7f1"},"encoding":{"x":{"datum":2536.895},"x2":{"datum":2599.408},"y":{"datum":57.193},"y2":{"datum":53.296}}},
{"mark":{"type":"rect","color":"#404850"},"encoding":{"x":{"datum":2537.522},"x2":{"datum":2538.254},"y":{"datum":56.218},"y2":{"datum":54.27}}},
{"mark":{"type":"text","text":"Keysight Spectrum Analyzer - Swept SA","fontSize":7,"color":"#334455","align":"left","baseline":"alphabetic"},"encoding":{"x":{"datum":2538.986},"y":{"datum":53.946}}},
{"mark":{"type":"rect","color":"#c4d2e2","stroke":"#8898aa","strokeWidth":0.5},"encoding":{"x":{"datum":2594.286},"x2":{"datum":2595.959},"y":{"datum":56.543},"y2":{"datum":53.946}}},
{"mark":{"type":"rect","color":"#c4d2e2","stroke":"#8898aa","strokeWidth":0.5},"encoding":{"x":{"datum":2596.063},"x2":{"datum":2597.631},"y":{"datum":56.543},"y2":{"datum":53.946}}},
{"mark":{"type":"rect","color":"#d0503c","stroke":"#8898aa","strokeWidth":0.5},"encoding":{"x":{"datum":2597.736},"x2":{"datum":2599.408},"y":{"datum":56.543},"y2":{"datum":53.946}}},
{"mark":{"type":"rect","color":"#f3f3f3"},"encoding":{"x":{"datum":2537.104},"x2":{"datum":2590.209},"y":{"datum":53.296},"y2":{"datum":50.699}}},
{"mark":{"type":"rect","color":"#2fbf2f"},"encoding":{"x":{"datum":2537.418},"x2":{"datum":2538.15},"y":{"datum":52.971},"y2":{"datum":51.023}}},
{"mark":{"type":"text","text":"T","fontSize":5.5,"color":"#777777","align":"left","baseline":"alphabetic"},"encoding":{"x":{"datum":2540.867},"y":{"datum":51.023}}},
{"mark":{"type":"text","text":"RF","fontSize":5.5,"color":"#777777","align":"left","baseline":"alphabetic"},"encoding":{"x":{"datum":2545.885},"y":{"datum":51.023}}},
{"mark":{"type":"text","text":"50 Ω    AC","fontSize":5.5,"color":"#777777","align":"left","baseline":"alphabetic"},"encoding":{"x":{"datum":2547.767},"y":{"datum":51.023}}},
{"mark":{"type":"text","text":"SENSE:INT","fontSize":5.5,"color":"#777777","align":"left","baseline":"alphabetic"},"encoding":{"x":{"datum":2563.657},"y":{"datum":51.023}}},
{"mark":{"type":"text","text":"ALIGN AUTO","fontSize":5.5,"color":"#777777","align":"left","baseline":"alphabetic"},"encoding":{"x":{"datum":2575.574},"y":{"datum":51.023}}},
{"mark":{"type":"text","text":"10:26:02 AM May 20, 2016","fontSize":5.5,"color":"#555555","align":"left","baseline":"alphabetic"},"encoding":{"x":{"datum":2581.428},"y":{"datum":51.023}}},
{"mark":{"type":"rect","color":"#e8e8e8"},"encoding":{"x":{"datum":2537.104},"x2":{"datum":2590.209},"y":{"datum":50.699},"y2":{"datum":37.387}}},
{"mark":{"type":"rect","color":"#000000"},"encoding":{"x":{"datum":2537.104},"x2":{"datum":2559.893},"y":{"datum":50.699},"y2":{"datum":46.153}}},
{"mark":{"type":"text","text":"Center Freq 2.565000000 GHz","fontSize":12,"fontWeight":"bold","color":"#ffffff","align":"left","baseline":"alphabetic"},"encoding":{"x":{"datum":2537.522},"y":{"datum":46.803}}},
{"mark":{"type":"rect","color":"#000000"},"encoding":{"x":{"datum":2537.104},"x2":{"datum":2542.958},"y":{"datum":46.153},"y2":{"datum":38.036}}},
{"mark":{"type":"rect","color":"#f8f8f8","stroke":"#999999","strokeWidth":0.5},"encoding":{"x":{"datum":2542.958},"x2":{"datum":2553.412},"y":{"datum":46.153},"y2":{"datum":38.036}}},
{"mark":{"type":"text","text":"PASS","fontSize":13,"fontWeight":"bold","color":"#22dd22","align":"left","baseline":"alphabetic"},"encoding":{"x":{"datum":2537.522},"y":{"datum":39.985}}},
{"mark":{"type":"text","text":"PNO: Fast","fontSize":7,"color":"#222222","align":"left","baseline":"alphabetic"},"encoding":{"x":{"datum":2553.935},"y":{"datum":42.582}}},
{"mark":{"type":"text","text":"IFGain:Low","fontSize":7,"color":"#222222","align":"left","baseline":"alphabetic"},"encoding":{"x":{"datum":2553.935},"y":{"datum":39.01}}},
{"mark":{"type":"text","text":"Trig: Free Run","fontSize":8,"fontWeight":"bold","color":"#111111","align":"left","baseline":"alphabetic"},"encoding":{"x":{"datum":2560.939},"y":{"datum":43.556}}},
{"mark":{"type":"text","text":"Atten: 30 dB","fontSize":8,"fontWeight":"bold","color":"#111111","align":"left","baseline":"alphabetic"},"encoding":{"x":{"datum":2560.939},"y":{"datum":39.985}}},
{"mark":{"type":"text","text":"Avg Type: RMS","fontSize":8,"fontWeight":"bold","color":"#111111","align":"left","baseline":"alphabetic"},"encoding":{"x":{"datum":2571.183},"y":{"datum":46.803}}},
{"mark":{"type":"text","text":"Avg|Hold:>200/200","fontSize":8,"fontWeight":"bold","color":"#111111","align":"left","baseline":"alphabetic"},"encoding":{"x":{"datum":2570.974},"y":{"datum":43.556}}},
{"mark":{"type":"text","text":"TRACE","fontSize":5,"color":"#444444","align":"right","baseline":"alphabetic"},"encoding":{"x":{"datum":2584.982},"y":{"datum":48.426}}},
{"mark":{"type":"text","text":"TYPE","fontSize":5,"color":"#444444","align":"right","baseline":"alphabetic"},"encoding":{"x":{"datum":2584.982},"y":{"datum":45.83}}},
{"mark":{"type":"text","text":"DET","fontSize":5,"color":"#444444","align":"right","baseline":"alphabetic"},"encoding":{"x":{"datum":2584.982},"y":{"datum":43.232}}},
{"mark":{"type":"rect","color":"#000000"},"encoding":{"x":{"datum":2585.087},"x2":{"datum":2590.0},"y":{"datum":50.374},"y2":{"datum":42.258}}},
{"mark":{"type":"text","text":"1 2 3 4 5 6","fontSize":6,"fontWeight":"bold","color":"#4aa0ff","align":"left","baseline":"alphabetic"},"encoding":{"x":{"datum":2585.296},"y":{"datum":48.426}}},
{"mark":{"type":"text","text":"A WWWWW","fontSize":6,"fontWeight":"bold","color":"#33cc33","align":"left","baseline":"alphabetic"},"encoding":{"x":{"datum":2585.296},"y":{"datum":45.83}}},
{"mark":{"type":"text","text":"A NNNNN","fontSize":6,"fontWeight":"bold","color":"#33cc33","align":"left","baseline":"alphabetic"},"encoding":{"x":{"datum":2585.296},"y":{"datum":43.232}}},
{"mark":{"type":"rect","color":"#000000"},"encoding":{"x":{"datum":2537.104},"x2":{"datum":2590.209},"y":{"datum":37.387},"y2":{"datum":-82.418}}},
{"data":{"name":"vgridR"},"mark":{"type":"rule","color":"#808080","strokeWidth":1},"encoding":{"x":{"field":"g","type":"quantitative","scale":{"domain":[2536.686,2599.617],"nice":false,"zero":false}},"y":{"datum":27},"y2":{"datum":-73}}},
{"data":{"name":"hgrid"},"mark":{"type":"rule","color":"#808080","strokeWidth":1},"encoding":{"y":{"field":"d","type":"quantitative","scale":{"domain":[-87.937,69.53],"nice":false,"zero":false}},"x":{"datum":2540},"x2":{"datum":2590}}},
{"mark":{"type":"rule","color":"#d8d8d8","strokeWidth":1.5},"encoding":{"y":{"datum":27},"x":{"datum":2540},"x2":{"datum":2590}}},
{"data":{"name":"maskR"},"mark":{"type":"line","color":"#b8b040","strokeWidth":1,"interpolate":"step-after"},"encoding":{"x":{"field":"f","type":"quantitative"},"y":{"field":"db","type":"quantitative"}}},
{"data":{"name":"traceR"},"mark":{"type":"line","color":"#9a9a20","strokeWidth":3,"opacity":0.5},"encoding":{"x":{"field":"f","type":"quantitative"},"y":{"field":"db","type":"quantitative"}}},
{"data":{"name":"traceR"},"mark":{"type":"line","color":"#ecec40","strokeWidth":1.2},"encoding":{"x":{"field":"f","type":"quantitative"},"y":{"field":"db","type":"quantitative"}}},
{"data":{"name":"levels"},"mark":{"type":"text","fontSize":6.5,"color":"#a0a0a0","align":"right","baseline":"middle"},"encoding":{"x":{"datum":2539.509},"y":{"field":"db","type":"quantitative"},"text":{"field":"label"}}},
{"mark":{"type":"text","text":"Ref Offset 15 dB","fontSize":8,"color":"#dddddd","align":"left","baseline":"alphabetic"},"encoding":{"x":{"datum":2540.658},"y":{"datum":32.517}}},
{"mark":{"type":"text","text":"Ref 27.00 dBm","fontSize":10,"fontWeight":"bold","color":"#ffffff","align":"left","baseline":"alphabetic"},"encoding":{"x":{"datum":2540.658},"y":{"datum":28.62}}},
{"mark":{"type":"text","text":"10 dB/div","fontSize":7,"color":"#aaaaaa","align":"left","baseline":"alphabetic"},"encoding":{"x":{"datum":2537.522},"y":{"datum":27.971}}},
{"mark":{"type":"text","text":"Log","fontSize":7,"color":"#aaaaaa","align":"left","baseline":"alphabetic"},"encoding":{"x":{"datum":2537.522},"y":{"datum":25.699}}},
{"mark":{"type":"text","text":"Mkr1 21.393 642 2 GHz","fontSize":13,"fontWeight":"bold","color":"#2ee02e","align":"right","baseline":"alphabetic"},"encoding":{"x":{"datum":2590.0},"y":{"datum":34.14}}},
{"mark":{"type":"text","text":"--- dBm","fontSize":13,"fontWeight":"bold","color":"#2ee02e","align":"right","baseline":"alphabetic"},"encoding":{"x":{"datum":2590.0},"y":{"datum":28.946}}},
{"mark":{"type":"text","text":"Trace 1 Pass","fontSize":9,"fontWeight":"bold","color":"#2ee02e","align":"left","baseline":"alphabetic"},"encoding":{"x":{"datum":2540.449},"y":{"datum":23.102}}},
{"mark":{"type":"text","text":"1","fontSize":8,"fontWeight":"bold","color":"#e8e020","align":"left","baseline":"alphabetic"},"encoding":{"x":{"datum":2589.477},"y":{"datum":23.427}}},
{"mark":{"type":"text","text":"Center 2.56500 GHz","fontSize":10,"fontWeight":"bold","color":"#ffffff","align":"left","baseline":"alphabetic"},"encoding":{"x":{"datum":2537.418},"y":{"datum":-76.898}}},
{"mark":{"type":"text","text":"#Res BW 200 kHz","fontSize":10,"fontWeight":"bold","color":"#ffffff","align":"left","baseline":"alphabetic"},"encoding":{"x":{"datum":2537.418},"y":{"datum":-81.119}}},
{"mark":{"type":"text","text":"#VBW 1.0 MHz*","fontSize":10,"fontWeight":"bold","color":"#ffffff","align":"left","baseline":"alphabetic"},"encoding":{"x":{"datum":2556.757},"y":{"datum":-81.119}}},
{"mark":{"type":"text","text":"Span 50.00 MHz","fontSize":10,"fontWeight":"bold","color":"#ffffff","align":"right","baseline":"alphabetic"},"encoding":{"x":{"datum":2590.0},"y":{"datum":-76.898}}},
{"mark":{"type":"text","text":"Sweep  2.667 ms (20000 pts)","fontSize":10,"fontWeight":"bold","color":"#ffffff","align":"right","baseline":"alphabetic"},"encoding":{"x":{"datum":2590.0},"y":{"datum":-81.119}}},
{"mark":{"type":"rect","color":"#ececec"},"encoding":{"x":{"datum":2536.895},"x2":{"datum":2599.408},"y":{"datum":-82.418},"y2":{"datum":-87.613}}},
{"mark":{"type":"rect","color":"#f2c12e"},"encoding":{"x":{"datum":2537.104},"x2":{"datum":2538.986},"y":{"datum":-83.392},"y2":{"datum":-87.288}}},
{"mark":{"type":"text","text":"MSG","fontSize":5,"color":"#666666","align":"left","baseline":"alphabetic"},"encoding":{"x":{"datum":2537.313},"y":{"datum":-86.314}}},
{"mark":{"type":"text","text":"STATUS","fontSize":5.5,"color":"#666666","align":"left","baseline":"alphabetic"},"encoding":{"x":{"datum":2577.455},"y":{"datum":-86.314}}},
{"mark":{"type":"rect","color":"#1c3866"},"encoding":{"x":{"datum":2590.209},"x2":{"datum":2599.617},"y":{"datum":53.296},"y2":{"datum":-82.418}}},
{"mark":{"type":"rect","color":"#2a5690"},"encoding":{"x":{"datum":2590.418},"x2":{"datum":2599.513},"y":{"datum":52.322},"y2":{"datum":44.853}}},
{"mark":{"type":"text","text":"Trace/Detector","fontSize":9,"fontWeight":"bold","color":"#ffffff","align":"center","baseline":"alphabetic"},"encoding":{"x":{"datum":2594.913},"y":{"datum":47.452}}},
{"mark":{"type":"rect","fill":{"gradient":"linear","x1":0,"y1":0,"x2":0,"y2":1,"stops":[{"offset":0,"color":"#d8eff9"},{"offset":0.12,"color":"#a6d6ee"},{"offset":0.7,"color":"#8cc6e4"},{"offset":0.84,"color":"#5a9ccc"},{"offset":1,"color":"#2a5e96"}]}},"encoding":{"x":{"datum":2590.523},"x2":{"datum":2599.513},"y":{"datum":44.528},"y2":{"datum":27.322}}},
{"mark":{"type":"rect","fill":{"gradient":"linear","x1":0,"y1":0,"x2":0,"y2":1,"stops":[{"offset":0,"color":"#d8eff9"},{"offset":0.12,"color":"#a6d6ee"},{"offset":0.7,"color":"#8cc6e4"},{"offset":0.84,"color":"#5a9ccc"},{"offset":1,"color":"#2a5e96"}]}},"encoding":{"x":{"datum":2590.523},"x2":{"datum":2599.513},"y":{"datum":26.673},"y2":{"datum":9.465}}},
{"mark":{"type":"rect","fill":{"gradient":"linear","x1":0,"y1":0,"x2":0,"y2":1,"stops":[{"offset":0,"color":"#d8eff9"},{"offset":0.12,"color":"#a6d6ee"},{"offset":0.7,"color":"#8cc6e4"},{"offset":0.84,"color":"#5a9ccc"},{"offset":1,"color":"#2a5e96"}]}},"encoding":{"x":{"datum":2590.523},"x2":{"datum":2599.513},"y":{"datum":8.816},"y2":{"datum":-8.392}}},
{"mark":{"type":"rect","fill":{"gradient":"linear","x1":0,"y1":0,"x2":0,"y2":1,"stops":[{"offset":0,"color":"#d8eff9"},{"offset":0.12,"color":"#a6d6ee"},{"offset":0.7,"color":"#8cc6e4"},{"offset":0.84,"color":"#5a9ccc"},{"offset":1,"color":"#2a5e96"}]}},"encoding":{"x":{"datum":2590.523},"x2":{"datum":2599.513},"y":{"datum":-9.041},"y2":{"datum":-26.249}}},
{"mark":{"type":"rect","fill":{"gradient":"linear","x1":0,"y1":0,"x2":0,"y2":1,"stops":[{"offset":0,"color":"#d8eff9"},{"offset":0.12,"color":"#a6d6ee"},{"offset":0.7,"color":"#8cc6e4"},{"offset":0.84,"color":"#5a9ccc"},{"offset":1,"color":"#2a5e96"}]}},"encoding":{"x":{"datum":2590.523},"x2":{"datum":2599.513},"y":{"datum":-26.899},"y2":{"datum":-44.106}}},
{"mark":{"type":"rect","fill":{"gradient":"linear","x1":0,"y1":0,"x2":0,"y2":1,"stops":[{"offset":0,"color":"#d8eff9"},{"offset":0.12,"color":"#a6d6ee"},{"offset":0.7,"color":"#8cc6e4"},{"offset":0.84,"color":"#5a9ccc"},{"offset":1,"color":"#2a5e96"}]}},"encoding":{"x":{"datum":2590.523},"x2":{"datum":2599.513},"y":{"datum":-45.081},"y2":{"datum":-62.288}}},
{"mark":{"type":"rect","fill":{"gradient":"linear","x1":0,"y1":0,"x2":0,"y2":1,"stops":[{"offset":0,"color":"#d8eff9"},{"offset":0.12,"color":"#a6d6ee"},{"offset":0.7,"color":"#8cc6e4"},{"offset":0.84,"color":"#5a9ccc"},{"offset":1,"color":"#2a5e96"}]}},"encoding":{"x":{"datum":2590.523},"x2":{"datum":2599.513},"y":{"datum":-63.262},"y2":{"datum":-81.119}}},
{"mark":{"type":"rect","fillOpacity":0,"stroke":"#e8e030","strokeWidth":2},"encoding":{"x":{"datum":2590.418},"x2":{"datum":2599.565},"y":{"datum":26.997},"y2":{"datum":-44.431}}},
{"mark":{"type":"text","text":"Select Trace","fontSize":10.5,"fontWeight":"bold","color":"#12284a","align":"right","baseline":"alphabetic"},"encoding":{"x":{"datum":2598.781},"y":{"datum":38.361}}},
{"mark":{"type":"text","text":"▶","fontSize":6,"color":"#12284a","align":"right","baseline":"alphabetic"},"encoding":{"x":{"datum":2599.513},"y":{"datum":37.712}}},
{"mark":{"type":"text","text":"1","fontSize":8.5,"color":"#12284a","align":"right","baseline":"alphabetic"},"encoding":{"x":{"datum":2599.304},"y":{"datum":34.465}}},
{"mark":{"type":"text","text":"Clear Write","fontSize":10.5,"fontWeight":"bold","color":"#12284a","align":"right","baseline":"alphabetic"},"encoding":{"x":{"datum":2599.408},"y":{"datum":17.257}}},
{"mark":{"type":"text","text":"Trace Average","fontSize":10.5,"fontWeight":"bold","color":"#12284a","align":"right","baseline":"alphabetic"},"encoding":{"x":{"datum":2599.408},"y":{"datum":-0.275}}},
{"mark":{"type":"text","text":"Max Hold","fontSize":10.5,"fontWeight":"bold","color":"#12284a","align":"right","baseline":"alphabetic"},"encoding":{"x":{"datum":2599.408},"y":{"datum":-18.457}}},
{"mark":{"type":"text","text":"Min Hold","fontSize":10.5,"fontWeight":"bold","color":"#12284a","align":"right","baseline":"alphabetic"},"encoding":{"x":{"datum":2599.408},"y":{"datum":-36.314}}},
{"mark":{"type":"text","text":"View Blank","fontSize":10.5,"fontWeight":"bold","color":"#12284a","align":"right","baseline":"alphabetic"},"encoding":{"x":{"datum":2598.781},"y":{"datum":-51.574}}},
{"mark":{"type":"text","text":"▶","fontSize":6,"color":"#12284a","align":"right","baseline":"alphabetic"},"encoding":{"x":{"datum":2599.513},"y":{"datum":-52.223}}},
{"mark":{"type":"text","text":"Trace On","fontSize":8.5,"fontWeight":"bold","color":"#12284a","align":"right","baseline":"alphabetic"},"encoding":{"x":{"datum":2598.99},"y":{"datum":-55.47}}},
{"mark":{"type":"text","text":"More","fontSize":10.5,"fontWeight":"bold","color":"#12284a","align":"right","baseline":"alphabetic"},"encoding":{"x":{"datum":2599.408},"y":{"datum":-69.756}}},
{"mark":{"type":"text","text":"1 of 3","fontSize":8.5,"fontWeight":"bold","color":"#12284a","align":"right","baseline":"alphabetic"},"encoding":{"x":{"datum":2599.408},"y":{"datum":-73.652}}}
]
}
]
}
